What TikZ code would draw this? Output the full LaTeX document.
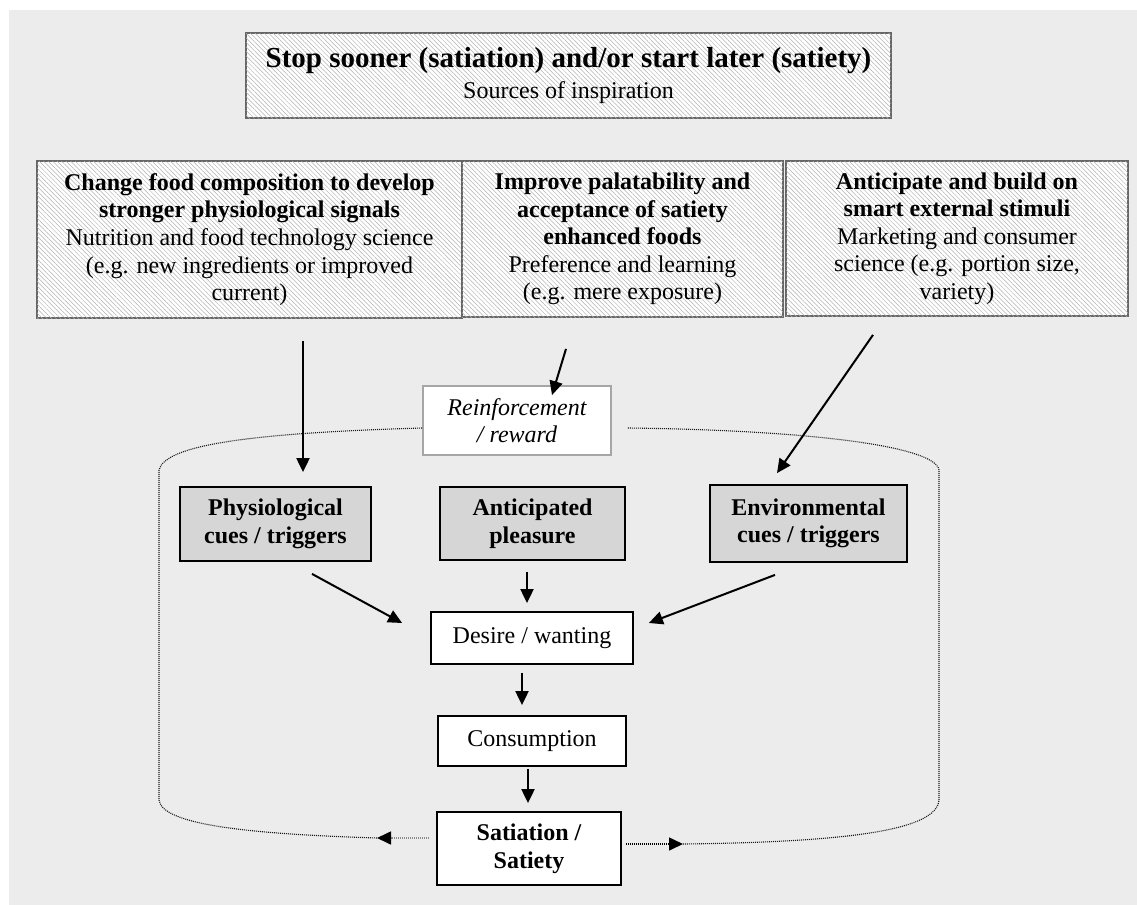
\documentclass[tikz,border=0pt]{standalone}
\usepackage{fontspec}
\setmainfont{Liberation Serif}
\usetikzlibrary{arrows.meta,patterns.meta,calc}

\begin{document}
\begin{tikzpicture}[x=0.5pt,y=-0.5pt,
    hatchbox/.style={draw=black!60,line width=0.9pt,fill=white,
      postaction={pattern={Lines[angle=135,distance=1.6pt,line width=0.25pt]},pattern color=black!30},
      inner sep=0pt,align=center,font=\fontsize{12}{13.8}\selectfont},
    cuebox/.style={draw=black,line width=0.9pt,fill=black!16,inner sep=0pt,align=center,
      font=\fontsize{12}{13.8}\selectfont\bfseries},
    plainbox/.style={draw=black,line width=0.9pt,fill=white,inner sep=0pt,align=center,
      font=\fontsize{12}{13.8}\selectfont},
    arr/.style={line width=1pt,-{Triangle[length=7pt,width=6.5pt]}},
    loopline/.style={line width=0.55pt,black!90,dash pattern=on 0.5pt off 0.5pt}]
  \fill[white] (0,0) rectangle (1137,905);
  \fill[black!7.5] (9,10) rectangle (1137,905);

  \node[hatchbox,minimum width=322.5pt,minimum height=42.5pt] (title) at (568.5,75.5)
    {{\fontsize{14.5}{17}\selectfont\bfseries Stop sooner (satiation) and/or start later (satiety)}\\[2pt]Sources of inspiration};
  \node[hatchbox,minimum width=212.5pt,minimum height=78.5pt] (food) at (249.5,239.5)
    {\textbf{Change food composition to develop}\\\textbf{stronger physiological signals}\\Nutrition and food technology science\\(e.g. new ingredients or improved\\current)};
  \node[hatchbox,minimum width=160.5pt,minimum height=78pt] (palat) at (622.5,239)
    {\textbf{Improve palatability and}\\\textbf{acceptance of satiety}\\\textbf{enhanced foods}\\Preference and learning\\(e.g. mere exposure)};
  \node[hatchbox,minimum width=171pt,minimum height=77.5pt] (smart) at (957,238.5)
    {\textbf{Anticipate and build on}\\\textbf{smart external stimuli}\\Marketing and consumer\\science (e.g. portion size,\\variety)};

  \node[plainbox,draw=black!35,font=\fontsize{12}{13.8}\selectfont\itshape,minimum width=94pt,minimum height=34.5pt] (reward) at (517,420.5)
    {Reinforcement\\/ reward};
  \node[cuebox,minimum width=95.5pt,minimum height=37pt] (physio) at (275.5,524) {Physiological\\cues / triggers};
  \node[cuebox,minimum width=92.5pt,minimum height=36.5pt] (pleasure) at (532.5,523.5) {Anticipated\\pleasure};
  \node[cuebox,minimum width=98.5pt,minimum height=38.5pt] (environ) at (808.5,523.5) {Environmental\\cues / triggers};
  \node[plainbox,minimum width=101pt,minimum height=26pt] (desire) at (532,638) {Desire / wanting};
  \node[plainbox,minimum width=94pt,minimum height=25pt] (consume) at (532,741) {Consumption};
  \node[plainbox,font=\fontsize{12}{13.8}\selectfont\bfseries,minimum width=92pt,minimum height=36.5pt] (satiety) at (529,848.5)
    {Satiation /\\Satiety};

  \coordinate (lefttip) at (377,838);
  \coordinate (righttip) at (683,844);
  \draw[loopline] ($(reward.west)+(0,7.5)$) .. controls (250,433) and (165,445) .. (159,470)
    -- (159,800) .. controls (162,825) and (250,834) .. (lefttip);
  \draw[loopline] ($(reward.east)+(16,7.5)$) .. controls (800,430) and (935,445) .. (939,470)
    -- (939,800) .. controls (937,830) and (850,842) .. (righttip);
  \draw[line width=0.8pt,black!45,dash pattern=on 0.7pt off 0.3pt,-{Triangle[length=7pt,width=6.5pt,black]}]
    ($(satiety.west)+(-7,-10.5)$) -- (lefttip);
  \draw[line width=0.8pt,dash pattern=on 0.6pt off 0.4pt,-{Triangle[length=7pt,width=6.5pt]}]
    ($(satiety.east)+(4,-4.5)$) -- (righttip);

  \draw[arr] ($(food.south)+(53.5,22)$) -- ($(physio.north)+(27.5,-14)$);
  \draw[arr] ($(palat.south)+(-56.5,31)$) -- ($(reward.north)+(35,10)$);
  \draw[arr] ($(smart.south)+(-84,18)$) -- ($(environ.north)+(-31.5,-11)$);
  \draw[arr] ($(physio.south)+(36.5,12)$) -- ($(desire.west)+(-28,-15)$);
  \draw[arr] ($(pleasure.south)+(-5.5,11)$) -- ($(desire.north)+(-5,-8)$);
  \draw[arr] ($(environ.south)+(-33.5,12)$) -- ($(desire.east)+(15,-15)$);
  \draw[arr] ($(desire.south)+(-10,8)$) -- ($(consume.north)+(-10,-10)$);
  \draw[arr] ($(consume.south)+(-4,2)$) -- ($(satiety.north)+(-1,-8)$);
\end{tikzpicture}
\end{document}
